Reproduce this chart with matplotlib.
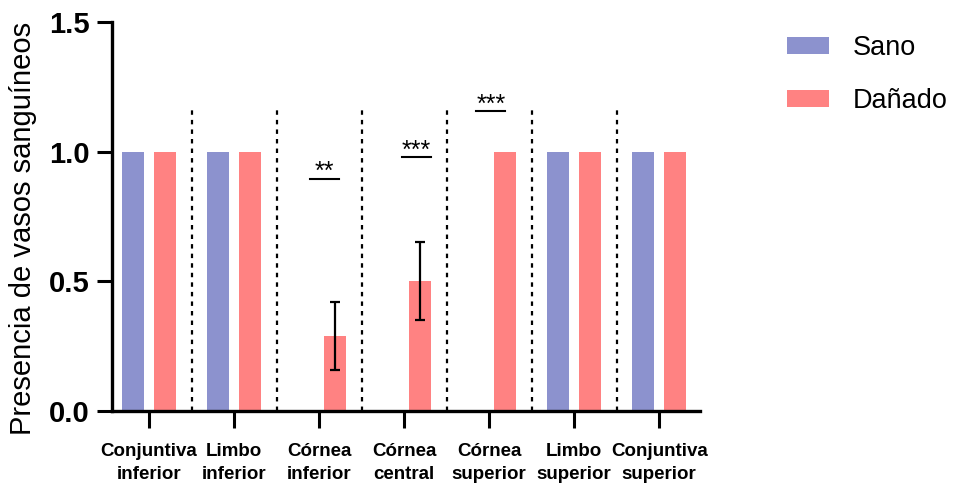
import matplotlib
matplotlib.use("Agg")
import matplotlib.pyplot as plt
import numpy as np
from matplotlib.patches import Patch

plt.rcParams['font.family'] = ['Liberation Sans', 'DejaVu Sans']

categories = ["Conjuntiva\ninferior", "Limbo\ninferior", "Córnea\ninferior",
              "Córnea\ncentral", "Córnea\nsuperior", "Limbo\nsuperior",
              "Conjuntiva\nsuperior"]
sano = [1.0, 1.0, 0.0, 0.0, 0.0, 1.0, 1.0]
danado = [1.0, 1.0, 0.29, 0.5, 1.0, 1.0, 1.0]
danado_err = [0.0, 0.0, 0.13, 0.15, 0.0, 0.0, 0.0]
series_names = ["Sano", "Dañado"]
yticks = [0.0, 0.5, 1.0, 1.5]
ytick_labels = ["0.0", "0.5", "1.0", "1.5"]
# significance: (category index, label, height)
sig_cat = [2, 3, 4]
sig_text = ["**", "***", "***"]
sig_y = [0.896, 0.978, 1.157]

c_sano = "#8C92CE"
c_dan = "#FF8282"

W, H = 955, 487
fig = plt.figure(figsize=(W / 100, H / 100), dpi=100)
ax = fig.add_axes([112 / W, 1 - 411 / H, (700 - 112) / W, (411 - 22) / H])

x = np.arange(len(categories))
bw = 0.259
off = 0.188
ax.bar(x - off, sano, bw, color=c_sano, zorder=2)
ax.bar(x + off, danado, bw, color=c_dan, zorder=2)
err = np.array(danado_err)
mask = err > 0
ax.errorbar((x + off)[mask], np.array(danado)[mask], yerr=err[mask], fmt='none',
            ecolor='black', elinewidth=1.6, capsize=3.6, capthick=1.6, zorder=3)

# dotted separators
for xs in x[:-1] + 0.5:
    ax.plot([xs, xs], [0, 1.165], color='black', lw=1.6,
            linestyle=(0, (2, 2.3)), zorder=1, clip_on=False)

# significance marks
sig_offsets = {2: (-0.106, 0.235), 3: (-0.029, 0.312), 4: (-0.15, 0.19)}
for ci, t, yy in zip(sig_cat, sig_text, sig_y):
    a, b = sig_offsets[ci]
    ax.plot([ci + a, ci + b], [yy, yy], color='black', lw=1.5, zorder=3)
    ax.text(ci + (a + b) / 2, yy - 0.002, t, ha='center', va='baseline',
            fontsize=18, color='black')

ax.set_xlim(-0.435, 6.48)
ax.set_ylim(0, 1.5)
ax.set_yticks(yticks)
ax.set_yticklabels(ytick_labels, fontsize=21, fontweight='bold')
ax.set_xticks(x)
ax.set_xticklabels(categories, fontsize=13.5, fontweight='bold', linespacing=1.45)
ax.tick_params(axis='y', length=10.5, width=2.2, pad=5.5)
ax.tick_params(axis='x', length=12, width=2.2, pad=11)
for s in ['top', 'right']:
    ax.spines[s].set_visible(False)
for s in ['left', 'bottom']:
    ax.spines[s].set_linewidth(2.4)

ax.set_ylabel("Presencia de vasos sanguíneos", fontsize=21)
ax.yaxis.set_label_coords(-0.128, 0.47)

handles = [Patch(facecolor=c_sano, edgecolor='none'), Patch(facecolor=c_dan, edgecolor='none')]
fig.legend(handles, series_names, loc='upper left',
           bbox_to_anchor=(787 / W, 1 - 35 / H), frameon=False, fontsize=19.5,
           handlelength=1.55, handleheight=0.63, handletextpad=0.88,
           labelspacing=1.0, borderpad=0, borderaxespad=0)

fig.savefig("out.png", dpi=100)
